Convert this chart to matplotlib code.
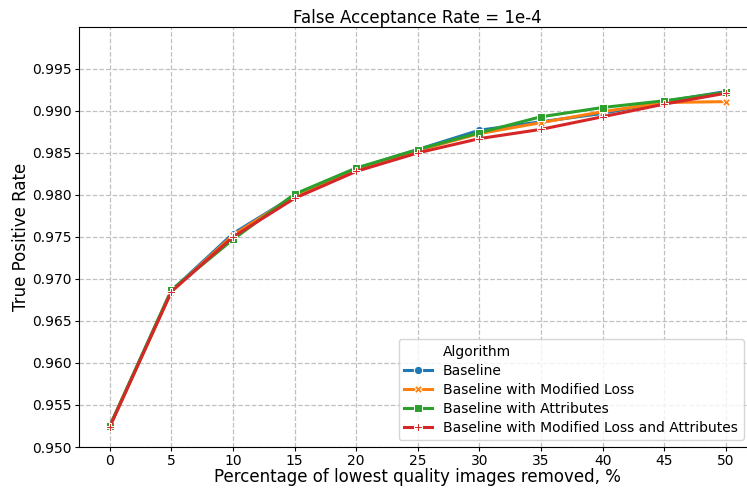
import numpy as np
import matplotlib.pyplot as plt
from matplotlib.lines import Line2D

removed = [0, 5, 10, 15, 20, 25, 30, 35, 40, 45, 50]
baseline = [0.9525, 0.9686, 0.9754, 0.9799, 0.9831, 0.9854, 0.9877, 0.9887, 0.9897, 0.9911, 0.9923]
mod_loss = [0.9525, 0.9685, 0.9752, 0.9799, 0.9831, 0.9853, 0.9873, 0.9886, 0.9899, 0.9910, 0.9911]
attributes = [0.9525, 0.9687, 0.9747, 0.9801, 0.9832, 0.9854, 0.9874, 0.9893, 0.9904, 0.9912, 0.9922]
mod_loss_attr = [0.9524, 0.9685, 0.9750, 0.9796, 0.9828, 0.9850, 0.9867, 0.9878, 0.9893, 0.9908, 0.9921]

names = ['Baseline', 'Baseline with Modified Loss', 'Baseline with Attributes',
         'Baseline with Modified Loss and Attributes']
series = [baseline, mod_loss, attributes, mod_loss_attr]
colors = ['#1f77b4', '#ff7f0e', '#2ca02c', '#d62728']
markers = ['o', 'X', 's', 'P']

fig = plt.figure(figsize=(7.47, 4.88), dpi=100)
# axes runs a bit past the right edge, like the cropped original
ax = fig.add_axes([0.1058, 0.084, 0.907, 0.861])

handles = [Line2D([], [], linestyle='none', marker='none')]
labels = ['Algorithm']
for name, vals, c, m in zip(names, series, colors, markers):
    ln, = ax.plot(removed, vals, color=c, marker=m, markersize=6, linewidth=2.2,
                  markeredgecolor='white', markeredgewidth=0.75, label=name)
    handles.append(ln)
    labels.append(name)

ax.set_xlim(-2.5, 52.5)
ax.set_ylim(0.95, 1.0)
ax.set_xticks(removed)
ax.set_yticks(np.arange(0.950, 0.9951, 0.005))
ax.tick_params(labelsize=10, length=3, pad=2)
ax.grid(True, linestyle='--', color='#c0c0c0', linewidth=0.9)
ax.set_xlabel('Percentage of lowest quality images removed, %', fontsize=12, labelpad=0)
ax.set_ylabel('True Positive Rate', fontsize=12, labelpad=2)
ax.set_title('False Acceptance Rate = 1e-4', fontsize=12, pad=2)
ax.legend(handles, labels, loc='lower right', bbox_to_anchor=(0.991, 0),
          fontsize=10, labelspacing=0.36)

fig.savefig('out.png', dpi=100)
